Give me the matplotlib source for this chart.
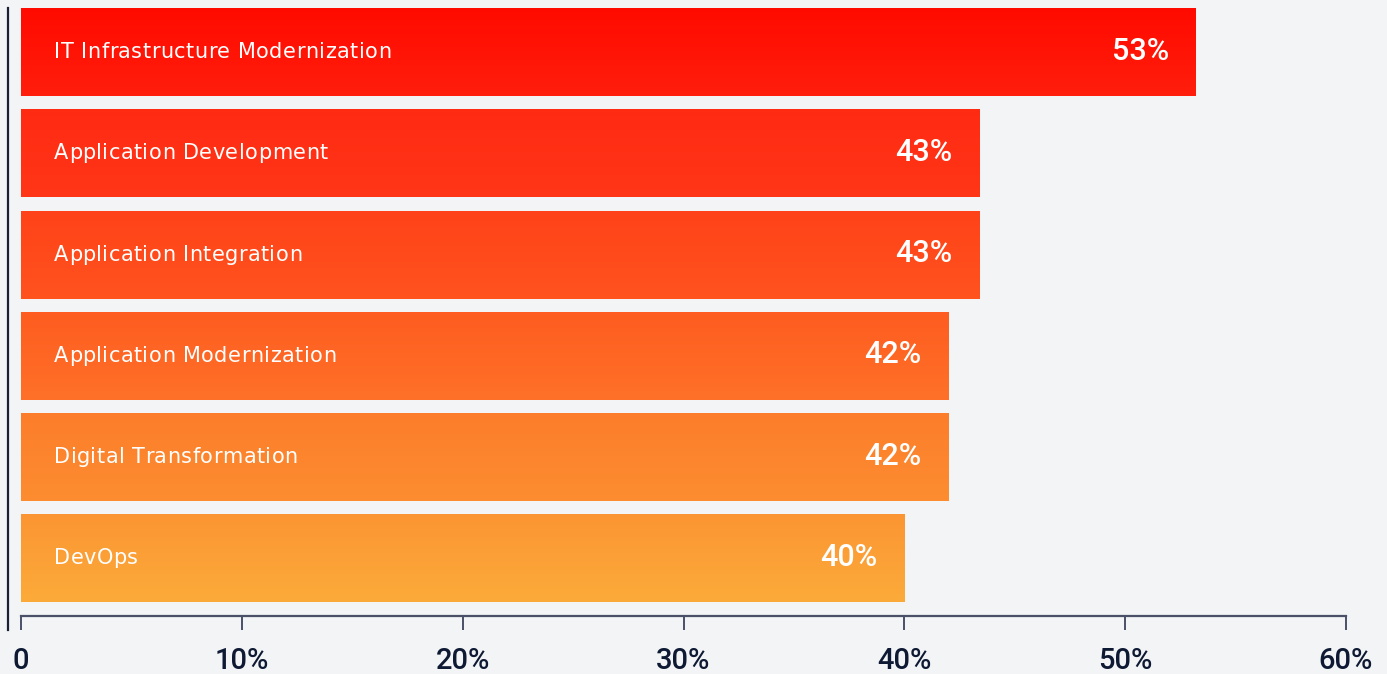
import matplotlib
matplotlib.use("Agg")
import matplotlib.pyplot as plt
import numpy as np
from matplotlib.colors import LinearSegmentedColormap
from matplotlib.patches import Rectangle
from matplotlib.lines import Line2D
from matplotlib.font_manager import FontProperties, findfont, get_font

categories = ["IT Infrastructure Modernization", "Application Development",
              "Application Integration", "Application Modernization",
              "Digital Transformation", "DevOps"]
values = [53.2, 43.4, 43.4, 42.0, 42.0, 40.0]
value_labels = ["53%", "43%", "43%", "42%", "42%", "40%"]
xticks = [0, 10, 20, 30, 40, 50, 60]
xtick_labels = ["0", "10%", "20%", "30%", "40%", "50%", "60%"]

top_colors = ["#ff0a00", "#ff2a12", "#ff4219", "#ff5c20", "#fd7d2b", "#fb9533"]
bottom_colors = ["#ff1e0c", "#ff3618", "#ff531e", "#fe7128", "#fc8d30", "#fcab3a"]

BG = "#f3f4f6"
W, H = 1387, 674
DPI = 100
fig = plt.figure(figsize=(W / DPI, H / DPI), dpi=DPI, facecolor=BG)
ax = fig.add_axes([21 / W, (H - 616) / H, 1325 / W, 608 / H], facecolor=BG)

bar_h = 0.87
ypos = np.arange(len(categories))
ax.set_xlim(0, 60)
ax.set_ylim(5.569, -0.436)

LABEL_SIZE = 15
label_fp = FontProperties(family="DejaVu Sans", size=LABEL_SIZE)
ft = get_font(findfont(label_fp))
ft.set_size(LABEL_SIZE, DPI)
SPACING = 0.45  # px


def spaced_text(x_px, y_px, s):
    cx = x_px
    for ch in s:
        fig.text(cx / W, y_px / H, ch, fontproperties=label_fp, color="white",
                 ha="left", va="center_baseline", zorder=5)
        g = ft.load_char(ord(ch))
        cx += g.linearHoriAdvance / 65536.0 + SPACING


for i, (v, y) in enumerate(zip(values, ypos)):
    cmap = LinearSegmentedColormap.from_list(f"g{i}", [top_colors[i], bottom_colors[i]])
    grad = np.linspace(0, 1, 256).reshape(-1, 1)
    im = ax.imshow(grad, cmap=cmap, aspect="auto",
                   extent=[0, v, y + bar_h / 2, y - bar_h / 2],
                   origin="upper", zorder=2, interpolation="bilinear")
    rect = Rectangle((0, y - bar_h / 2), v, bar_h, transform=ax.transData,
                     facecolor="none", edgecolor="none")
    ax.add_patch(rect)
    im.set_clip_path(rect)
    ax.text(v - 1.22, y - 0.01, value_labels[i], color="white", fontsize=22,
            family="Roboto", fontweight="medium", va="center", ha="right", zorder=3)

ax.set_ylim(5.569, -0.436)
ax.set_xlim(0, 60)

for i, y in enumerate(ypos):
    px, py = ax.transData.transform((0, y))
    spaced_text(px + 33, py + 2, categories[i])

for s in ["top", "right", "left"]:
    ax.spines[s].set_visible(False)
ax.spines["bottom"].set_color("#4a5068")
ax.spines["bottom"].set_linewidth(1.6)
ax.set_yticks([])
ax.set_xticks(xticks)
ax.set_xticklabels(xtick_labels, fontsize=21, family="Roboto", fontweight="medium",
                   color="#0e1a33")
ax.tick_params(axis="x", direction="out", length=10, width=1.4, color="#4a5068", pad=12.5)

fig.add_artist(Line2D([7.5 / W, 7.5 / W], [(H - 8) / H, (H - 630) / H],
                      color="#1a2035", linewidth=1.6, transform=fig.transFigure))

fig.savefig("out.png", dpi=DPI, facecolor=BG)
